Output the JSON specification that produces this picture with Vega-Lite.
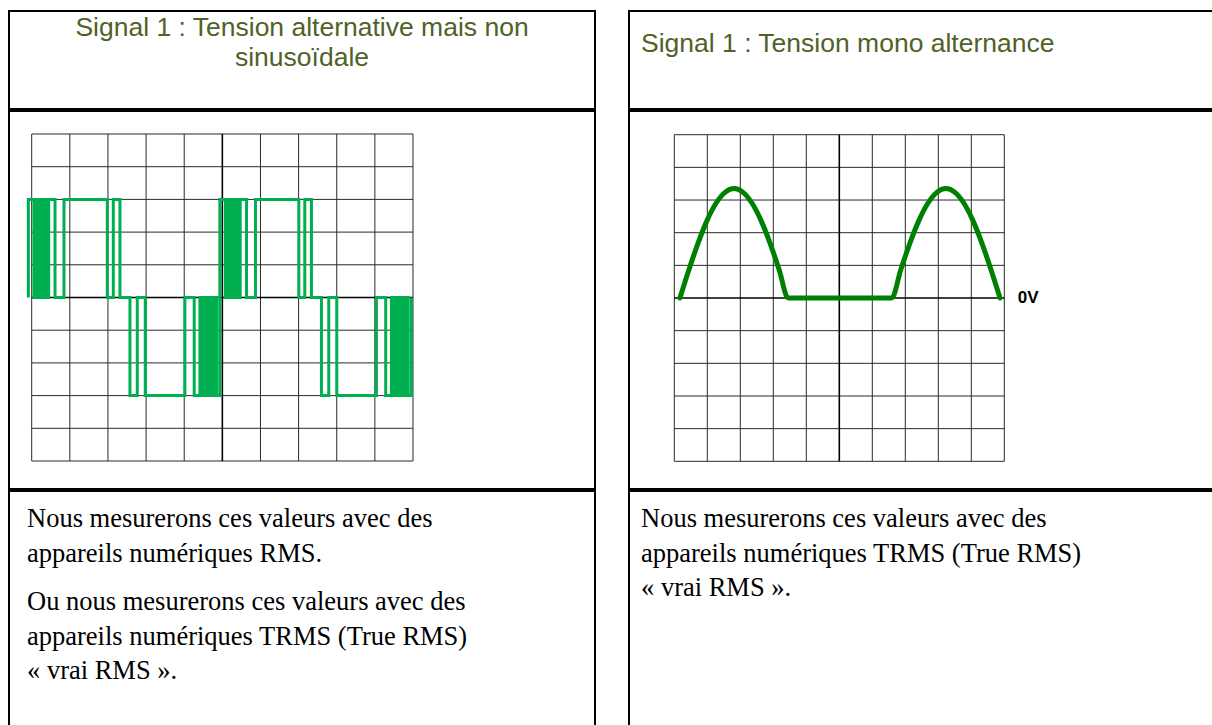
{
  "$schema": "https://vega.github.io/schema/vega-lite/v6.json",
  "background": "white",
  "padding": {"left": 8, "top": 10, "right": 0, "bottom": 0},
  "config": {"view": {"stroke": "#000", "strokeWidth": 2}},
  "datasets": {
    "xs": [{"k":0},{"k":1},{"k":2},{"k":3},{"k":4},{"k":5},{"k":6},{"k":7},{"k":8},{"k":9},{"k":10}],
    "ys": [{"k":-5},{"k":-4},{"k":-3},{"k":-2},{"k":-1},{"k":0},{"k":1},{"k":2},{"k":3},{"k":4},{"k":5}],
    "sig1": [
      {"i":1,"t":-0.087,"v":0},{"i":2,"t":-0.087,"v":3},{"i":3,"t":0.06,"v":3},{"i":4,"t":0.06,"v":0},
      {"i":5,"t":0.13,"v":0},{"i":6,"t":0.13,"v":3},{"i":7,"t":0.19,"v":3},{"i":8,"t":0.19,"v":0},
      {"i":9,"t":0.25,"v":0},{"i":10,"t":0.25,"v":3},{"i":11,"t":0.31,"v":3},{"i":12,"t":0.31,"v":0},
      {"i":13,"t":0.35,"v":0},{"i":14,"t":0.35,"v":3},{"i":15,"t":0.376,"v":3},{"i":16,"t":0.376,"v":0},
      {"i":17,"t":0.446,"v":0},{"i":18,"t":0.446,"v":3},{"i":19,"t":0.612,"v":3},{"i":20,"t":0.612,"v":0},
      {"i":21,"t":0.847,"v":0},{"i":22,"t":0.847,"v":3},{"i":23,"t":1.983,"v":3},{"i":24,"t":1.983,"v":0},
      {"i":25,"t":2.14,"v":0},{"i":26,"t":2.14,"v":3},{"i":27,"t":2.315,"v":3},{"i":28,"t":2.315,"v":0},
      {"i":29,"t":2.577,"v":0},{"i":30,"t":2.577,"v":-3},{"i":31,"t":2.769,"v":-3},{"i":32,"t":2.769,"v":0},
      {"i":33,"t":2.979,"v":0},{"i":34,"t":2.979,"v":-3},{"i":35,"t":4.018,"v":-3},{"i":36,"t":4.018,"v":0},
      {"i":37,"t":4.262,"v":0},{"i":38,"t":4.262,"v":-3},{"i":39,"t":4.411,"v":-3},{"i":40,"t":4.411,"v":0},
      {"i":41,"t":4.48,"v":0},{"i":42,"t":4.48,"v":-3},{"i":43,"t":4.55,"v":-3},{"i":44,"t":4.55,"v":0},
      {"i":45,"t":4.61,"v":0},{"i":46,"t":4.61,"v":-3},{"i":47,"t":4.67,"v":-3},{"i":48,"t":4.67,"v":0},
      {"i":49,"t":4.73,"v":0},{"i":50,"t":4.73,"v":-3},{"i":51,"t":4.79,"v":-3},{"i":52,"t":4.79,"v":0},
      {"i":53,"t":4.85,"v":0},{"i":54,"t":4.85,"v":-3},{"i":55,"t":4.935,"v":-3},{"i":56,"t":4.935,"v":0},
      {"i":57,"t":4.935,"v":3},{"i":58,"t":5.082,"v":3},{"i":59,"t":5.082,"v":0},
      {"i":60,"t":5.152,"v":0},{"i":61,"t":5.152,"v":3},{"i":62,"t":5.212,"v":3},{"i":63,"t":5.212,"v":0},
      {"i":64,"t":5.272,"v":0},{"i":65,"t":5.272,"v":3},{"i":66,"t":5.332,"v":3},{"i":67,"t":5.332,"v":0},
      {"i":68,"t":5.372,"v":0},{"i":69,"t":5.372,"v":3},{"i":70,"t":5.398,"v":3},{"i":71,"t":5.398,"v":0},
      {"i":72,"t":5.468,"v":0},{"i":73,"t":5.468,"v":3},{"i":74,"t":5.634,"v":3},{"i":75,"t":5.634,"v":0},
      {"i":76,"t":5.869,"v":0},{"i":77,"t":5.869,"v":3},{"i":78,"t":7.005,"v":3},{"i":79,"t":7.005,"v":0},
      {"i":80,"t":7.162,"v":0},{"i":81,"t":7.162,"v":3},{"i":82,"t":7.337,"v":3},{"i":83,"t":7.337,"v":0},
      {"i":84,"t":7.599,"v":0},{"i":85,"t":7.599,"v":-3},{"i":86,"t":7.791,"v":-3},{"i":87,"t":7.791,"v":0},
      {"i":88,"t":8.001,"v":0},{"i":89,"t":8.001,"v":-3},{"i":90,"t":9.04,"v":-3},{"i":91,"t":9.04,"v":0},
      {"i":92,"t":9.284,"v":0},{"i":93,"t":9.284,"v":-3},{"i":94,"t":9.433,"v":-3},{"i":95,"t":9.433,"v":0},
      {"i":96,"t":9.502,"v":0},{"i":97,"t":9.502,"v":-3},{"i":98,"t":9.572,"v":-3},{"i":99,"t":9.572,"v":0},
      {"i":100,"t":9.632,"v":0},{"i":101,"t":9.632,"v":-3},{"i":102,"t":9.692,"v":-3},{"i":103,"t":9.692,"v":0},
      {"i":104,"t":9.752,"v":0},{"i":105,"t":9.752,"v":-3},{"i":106,"t":9.812,"v":-3},{"i":107,"t":9.812,"v":0},
      {"i":108,"t":9.872,"v":0},{"i":109,"t":9.872,"v":-3},{"i":110,"t":9.957,"v":-3},{"i":111,"t":9.957,"v":0}
    ],
    "sig2": [
      {"i":1,"t":0.17,"v":0},{"i":2,"t":0.443,"v":0.867},{"i":3,"t":0.717,"v":1.675},{"i":4,"t":0.99,"v":2.369},
      {"i":5,"t":1.263,"v":2.901},{"i":6,"t":1.537,"v":3.236},{"i":7,"t":1.81,"v":3.35},{"i":8,"t":2.083,"v":3.236},
      {"i":9,"t":2.357,"v":2.901},{"i":10,"t":2.63,"v":2.369},{"i":11,"t":2.903,"v":1.675},{"i":12,"t":3.177,"v":0.867},
      {"i":13,"t":3.45,"v":0},
      {"i":14,"t":6.59,"v":0},{"i":15,"t":6.863,"v":0.867},{"i":16,"t":7.137,"v":1.675},{"i":17,"t":7.41,"v":2.369},
      {"i":18,"t":7.683,"v":2.901},{"i":19,"t":7.957,"v":3.236},{"i":20,"t":8.23,"v":3.35},{"i":21,"t":8.503,"v":3.236},
      {"i":22,"t":8.777,"v":2.901},{"i":23,"t":9.05,"v":2.369},{"i":24,"t":9.323,"v":1.675},{"i":25,"t":9.597,"v":0.867},
      {"i":26,"t":9.87,"v":0}
    ]
  },
  "spacing": 32,
  "hconcat": [
    {
      "spacing": 0,
      "vconcat": [
        {
          "width": 586, "height": 98,
          "data": {"values": [{"para": 1, "text": "Signal 1 : Tension alternative mais non\nsinusoïdale"}]},
          "mark": {"type": "text", "font": "Liberation Sans", "fontSize": 26.5, "lineHeight": 30, "lineBreak": "\n", "align": "center", "baseline": "alphabetic", "color": "#4F6228"},
          "encoding": {
            "y": {"field": "para", "type": "quantitative", "scale": {"domain": [0, 3.92], "reverse": true, "nice": false, "zero": false}, "axis": null},
            "text": {"field": "text"}
          }
        },
        {
          "width": 586, "height": 378,
          "layer": [
            {
              "data": {"name": "xs"},
              "transform": [{"filter": "datum.k != 5"}],
              "mark": {"type": "rule", "color": "#2a2a2a", "strokeWidth": 1},
              "encoding": {
                "x": {"field": "k", "type": "quantitative", "scale": {"domain": [-0.595, 14.773], "nice": false, "zero": false}, "axis": null},
                "y": {"datum": -5, "type": "quantitative", "scale": {"domain": [-5.856, 5.703], "nice": false, "zero": false}, "axis": null},
                "y2": {"datum": 5}
              }
            },
            {
              "data": {"name": "ys"},
              "transform": [{"filter": "datum.k != 0"}],
              "mark": {"type": "rule", "color": "#2a2a2a", "strokeWidth": 1},
              "encoding": {
                "y": {"field": "k", "type": "quantitative", "scale": {"domain": [-5.856, 5.703], "nice": false, "zero": false}, "axis": null},
                "x": {"datum": 0, "type": "quantitative", "scale": {"domain": [-0.595, 14.773], "nice": false, "zero": false}, "axis": null},
                "x2": {"datum": 10}
              }
            },
            {
              "data": {"name": "xs"},
              "transform": [{"filter": "datum.k == 5"}],
              "mark": {"type": "rule", "color": "#000", "strokeWidth": 1.6},
              "encoding": {
                "x": {"field": "k", "type": "quantitative", "scale": {"domain": [-0.595, 14.773], "nice": false, "zero": false}, "axis": null},
                "y": {"datum": -5, "type": "quantitative", "scale": {"domain": [-5.856, 5.703], "nice": false, "zero": false}, "axis": null},
                "y2": {"datum": 5}
              }
            },
            {
              "data": {"name": "ys"},
              "transform": [{"filter": "datum.k == 0"}],
              "mark": {"type": "rule", "color": "#000", "strokeWidth": 1.6},
              "encoding": {
                "y": {"field": "k", "type": "quantitative", "scale": {"domain": [-5.856, 5.703], "nice": false, "zero": false}, "axis": null},
                "x": {"datum": 0, "type": "quantitative", "scale": {"domain": [-0.595, 14.773], "nice": false, "zero": false}, "axis": null},
                "x2": {"datum": 10}
              }
            },
            {
              "data": {"name": "sig1"},
              "mark": {"type": "line", "color": "#00B050", "strokeWidth": 3, "strokeJoin": "miter"},
              "encoding": {
                "x": {"field": "t", "type": "quantitative", "scale": {"domain": [-0.595, 14.773], "nice": false, "zero": false}, "axis": null},
                "y": {"field": "v", "type": "quantitative", "scale": {"domain": [-5.856, 5.703], "nice": false, "zero": false}, "axis": null},
                "order": {"field": "i", "type": "quantitative"}
              }
            }
          ]
        },
        {
          "width": 586, "height": 245,
          "data": {"values": [
            {"para": 1, "text": "Nous mesurerons ces valeurs avec des\nappareils numériques RMS."},
            {"para": 2, "text": "Ou nous mesurerons ces valeurs avec des\nappareils numériques TRMS (True RMS)\n« vrai RMS »."}
          ]},
          "mark": {"type": "text", "font": "Liberation Serif", "fontSize": 26.5, "lineHeight": 34.5, "lineBreak": "\n", "align": "left", "baseline": "alphabetic", "color": "#000"},
          "encoding": {
            "x": {"datum": 0, "type": "quantitative", "scale": {"domain": [-18, 568], "nice": false, "zero": false}, "axis": null},
            "y": {"field": "para", "type": "quantitative", "scale": {"domain": [0.566, 3.518], "reverse": true, "nice": false, "zero": false}, "axis": null},
            "text": {"field": "text"}
          }
        }
      ]
    },
    {
      "spacing": 0,
      "vconcat": [
        {
          "width": 590, "height": 98,
          "data": {"values": [{"para": 1, "text": "Signal 1 : Tension mono alternance"}]},
          "mark": {"type": "text", "font": "Liberation Sans", "fontSize": 26.5, "align": "left", "baseline": "alphabetic", "color": "#4F6228"},
          "encoding": {
            "x": {"datum": 0, "type": "quantitative", "scale": {"domain": [-12, 578], "nice": false, "zero": false}, "axis": null},
            "y": {"field": "para", "type": "quantitative", "scale": {"domain": [0, 2.39], "reverse": true, "nice": false, "zero": false}, "axis": null},
            "text": {"field": "text"}
          }
        },
        {
          "width": 590, "height": 378,
          "layer": [
            {
              "data": {"name": "xs"},
              "transform": [{"filter": "datum.k != 5"}],
              "mark": {"type": "rule", "color": "#2a2a2a", "strokeWidth": 1},
              "encoding": {
                "x": {"field": "k", "type": "quantitative", "scale": {"domain": [-1.373, 16.506], "nice": false, "zero": false}, "axis": null},
                "y": {"datum": -5, "type": "quantitative", "scale": {"domain": [-5.848, 5.726], "nice": false, "zero": false}, "axis": null},
                "y2": {"datum": 5}
              }
            },
            {
              "data": {"name": "ys"},
              "transform": [{"filter": "datum.k != 0"}],
              "mark": {"type": "rule", "color": "#2a2a2a", "strokeWidth": 1},
              "encoding": {
                "y": {"field": "k", "type": "quantitative", "scale": {"domain": [-5.848, 5.726], "nice": false, "zero": false}, "axis": null},
                "x": {"datum": 0, "type": "quantitative", "scale": {"domain": [-1.373, 16.506], "nice": false, "zero": false}, "axis": null},
                "x2": {"datum": 10}
              }
            },
            {
              "data": {"name": "xs"},
              "transform": [{"filter": "datum.k == 5"}],
              "mark": {"type": "rule", "color": "#000", "strokeWidth": 1.6},
              "encoding": {
                "x": {"field": "k", "type": "quantitative", "scale": {"domain": [-1.373, 16.506], "nice": false, "zero": false}, "axis": null},
                "y": {"datum": -5, "type": "quantitative", "scale": {"domain": [-5.848, 5.726], "nice": false, "zero": false}, "axis": null},
                "y2": {"datum": 5}
              }
            },
            {
              "data": {"name": "ys"},
              "transform": [{"filter": "datum.k == 0"}],
              "mark": {"type": "rule", "color": "#000", "strokeWidth": 1.6},
              "encoding": {
                "y": {"field": "k", "type": "quantitative", "scale": {"domain": [-5.848, 5.726], "nice": false, "zero": false}, "axis": null},
                "x": {"datum": 0, "type": "quantitative", "scale": {"domain": [-1.373, 16.506], "nice": false, "zero": false}, "axis": null},
                "x2": {"datum": 10}
              }
            },
            {
              "data": {"name": "sig2"},
              "mark": {"type": "line", "color": "#008000", "strokeWidth": 5, "strokeCap": "round", "strokeJoin": "round", "interpolate": "monotone"},
              "encoding": {
                "x": {"field": "t", "type": "quantitative", "scale": {"domain": [-1.373, 16.506], "nice": false, "zero": false}, "axis": null},
                "y": {"field": "v", "type": "quantitative", "scale": {"domain": [-5.848, 5.726], "nice": false, "zero": false}, "axis": null},
                "order": {"field": "i", "type": "quantitative"}
              }
            },
            {
              "data": {"values": [{"t": 10.41, "v": 0, "label": "0V"}]},
              "mark": {"type": "text", "font": "Liberation Sans", "fontWeight": "bold", "fontSize": 17, "align": "left", "baseline": "middle", "color": "#000"},
              "encoding": {
                "x": {"field": "t", "type": "quantitative", "scale": {"domain": [-1.373, 16.506], "nice": false, "zero": false}, "axis": null},
                "y": {"field": "v", "type": "quantitative", "scale": {"domain": [-5.848, 5.726], "nice": false, "zero": false}, "axis": null},
                "text": {"field": "label"}
              }
            }
          ]
        },
        {
          "width": 590, "height": 245,
          "data": {"values": [
            {"para": 1, "text": "Nous mesurerons ces valeurs avec des\nappareils numériques TRMS (True RMS)\n« vrai RMS »."}
          ]},
          "mark": {"type": "text", "font": "Liberation Serif", "fontSize": 26.5, "lineHeight": 34.5, "lineBreak": "\n", "align": "left", "baseline": "alphabetic", "color": "#000"},
          "encoding": {
            "x": {"datum": 0, "type": "quantitative", "scale": {"domain": [-12, 578], "nice": false, "zero": false}, "axis": null},
            "y": {"field": "para", "type": "quantitative", "scale": {"domain": [0.566, 3.518], "reverse": true, "nice": false, "zero": false}, "axis": null},
            "text": {"field": "text"}
          }
        }
      ]
    }
  ]
}
